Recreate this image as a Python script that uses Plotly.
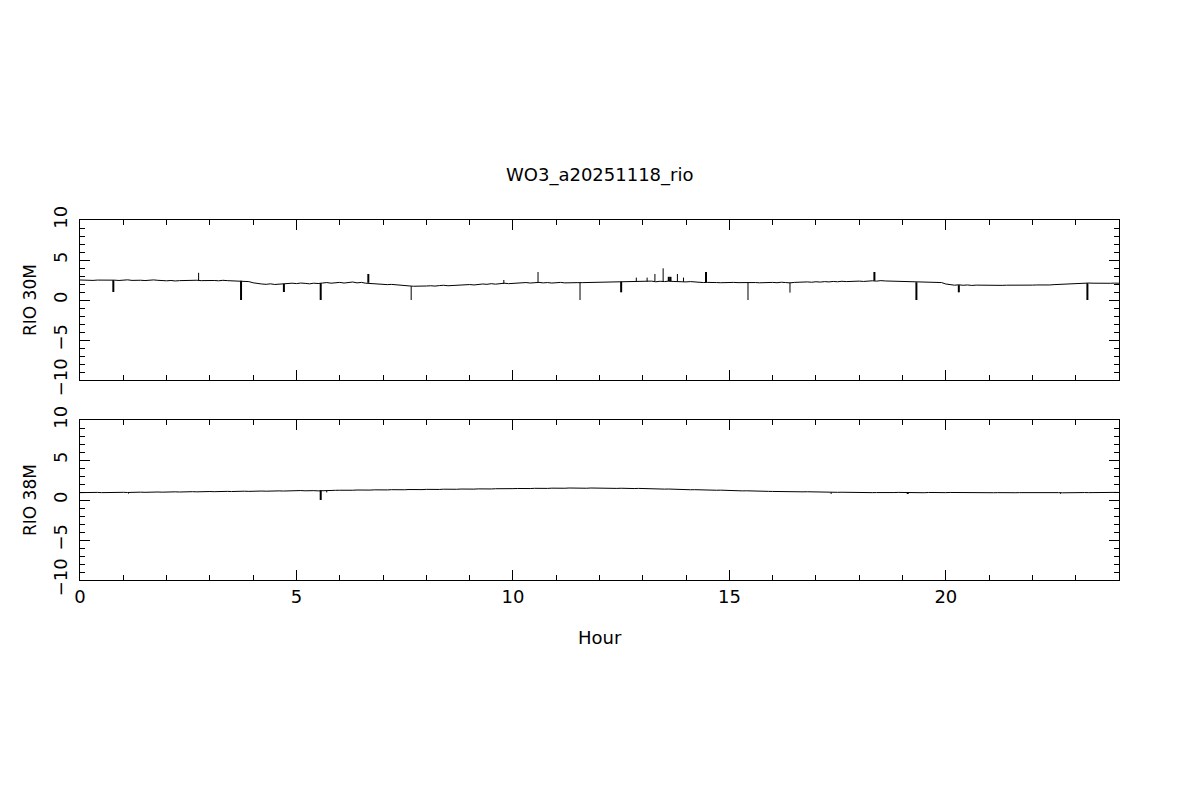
import plotly.graph_objects as go

# ---------------- data ----------------
hours = [round(i * 0.1, 1) for i in range(241)]

rio30_base = [
    2.50, 2.47, 2.52, 2.45, 2.49, 2.51, 2.46, 2.50, 2.48, 2.44,
    2.47, 2.52, 2.45, 2.50, 2.47, 2.43, 2.48, 2.51, 2.46, 2.42,
    2.40, 2.44, 2.38, 2.42, 2.45, 2.40, 2.43, 2.47, 2.42, 2.45,
    2.48, 2.44, 2.40, 2.46, 2.42, 2.39, 2.43, 2.40, 2.38, 2.30,
    2.15, 2.05, 2.00, 1.96, 2.02, 1.94, 1.98, 2.04, 2.06, 2.10,
    2.05, 2.12, 2.08, 2.02, 2.10, 2.06, 2.12, 2.18, 2.10, 2.15,
    2.20, 2.12, 2.18, 2.25, 2.14, 2.20, 2.10, 2.05, 2.08, 2.02,
    1.98, 1.92, 1.95, 1.88, 1.85, 1.80, 1.76, 1.72, 1.70, 1.73,
    1.75, 1.78, 1.74, 1.80, 1.84, 1.78, 1.82, 1.88, 1.85, 1.90,
    1.93, 1.88, 1.95, 2.00, 1.96, 2.04, 1.98, 2.06, 2.10, 2.04,
    2.08, 2.14, 2.10, 2.18, 2.12, 2.16, 2.20, 2.14, 2.18, 2.12,
    2.16, 2.20, 2.14, 2.18, 2.15, 2.17, 2.17, 2.18, 2.20, 2.24,
    2.20, 2.26, 2.22, 2.28, 2.24, 2.30, 2.26, 2.32, 2.28, 2.30,
    2.34, 2.30, 2.36, 2.28, 2.34, 2.30, 2.36, 2.32, 2.28, 2.30,
    2.26, 2.30, 2.24, 2.20, 2.18, 2.20, 2.22, 2.18, 2.16, 2.20,
    2.18, 2.20, 2.17, 2.19, 2.16, 2.20, 2.18, 2.15, 2.19, 2.17,
    2.20, 2.16, 2.22, 2.18, 2.14, 2.20, 2.24, 2.20, 2.26, 2.22,
    2.28, 2.24, 2.30, 2.26, 2.32, 2.28, 2.34, 2.30, 2.35, 2.32,
    2.36, 2.32, 2.38, 2.40, 2.36, 2.42, 2.38, 2.36, 2.40, 2.34,
    2.32, 2.30, 2.28, 2.30, 2.27, 2.28, 2.26, 2.25, 2.22, 2.18,
    2.00, 1.88, 1.85, 1.90, 1.84, 1.88, 1.82, 1.86, 1.84, 1.88,
    1.84, 1.86, 1.85, 1.83, 1.85, 1.84, 1.84, 1.85, 1.85, 1.84,
    1.86, 1.88, 1.85, 1.90, 1.88, 1.92, 1.95, 1.98, 2.02, 2.05,
    2.08, 2.06, 2.10, 2.12, 2.10, 2.08, 2.10, 2.12, 2.09, 2.11,
    2.10,
]

rio38_base = [
    0.92, 0.94, 0.92, 0.93, 0.95, 0.92, 0.94, 0.93, 0.95, 0.94,
    0.96, 0.94, 0.97, 0.95, 0.98, 0.96, 0.99, 0.97, 1.00, 0.98,
    1.01, 0.99, 1.02, 1.00, 1.03, 1.01, 1.04, 1.02, 1.05, 1.03,
    1.06, 1.04, 1.07, 1.05, 1.08, 1.06, 1.09, 1.07, 1.10, 1.08,
    1.11, 1.09, 1.12, 1.10, 1.13, 1.11, 1.14, 1.12, 1.15, 1.13,
    1.16, 1.18, 1.15, 1.19, 1.17, 1.14, 1.18, 1.20, 1.17, 1.21,
    1.22, 1.20, 1.24, 1.22, 1.25, 1.23, 1.26, 1.24, 1.27, 1.25,
    1.28, 1.26, 1.29, 1.27, 1.30, 1.28, 1.31, 1.29, 1.32, 1.30,
    1.33, 1.31, 1.34, 1.32, 1.35, 1.33, 1.36, 1.34, 1.37, 1.35,
    1.38, 1.36, 1.39, 1.37, 1.40, 1.38, 1.41, 1.39, 1.42, 1.40,
    1.42, 1.44, 1.41, 1.45, 1.43, 1.46, 1.44, 1.47, 1.45, 1.48,
    1.46, 1.49, 1.47, 1.50, 1.48, 1.46, 1.49, 1.47, 1.50, 1.48,
    1.47, 1.49, 1.46, 1.48, 1.45, 1.47, 1.44, 1.46, 1.43, 1.45,
    1.42, 1.40, 1.41, 1.38, 1.39, 1.36, 1.37, 1.34, 1.35, 1.32,
    1.30, 1.28, 1.29, 1.26, 1.27, 1.24, 1.25, 1.22, 1.23, 1.20,
    1.18, 1.16, 1.17, 1.14, 1.15, 1.12, 1.13, 1.10, 1.11, 1.08,
    1.07, 1.05, 1.06, 1.04, 1.05, 1.03, 1.04, 1.02, 1.03, 1.01,
    1.00, 0.98, 0.99, 0.97, 0.98, 0.96, 0.97, 0.95, 0.96, 0.94,
    0.95, 0.93, 0.94, 0.92, 0.93, 0.91, 0.92, 0.94, 0.93, 0.95,
    0.93, 0.94, 0.92, 0.95, 0.93, 0.91, 0.94, 0.92, 0.93, 0.91,
    0.92, 0.94, 0.93, 0.91, 0.92, 0.94, 0.92, 0.93, 0.91, 0.92,
    0.93, 0.91, 0.92, 0.94, 0.92, 0.93, 0.91, 0.92, 0.93, 0.92,
    0.94, 0.92, 0.93, 0.91, 0.92, 0.93, 0.92, 0.90, 0.92, 0.93,
    0.92, 0.94, 0.93, 0.92, 0.94, 0.93, 0.95, 0.93, 0.94, 0.95,
    0.94,
]

# spikes: time (h), level before spike, spike extreme, thick?
rio30_spike_t = [0.77, 2.74, 3.72, 4.71, 5.56, 6.66, 7.65, 9.79, 10.58, 11.55,
                 12.50, 12.85, 13.10, 13.28, 13.47, 13.60, 13.64, 13.80, 13.94,
                 14.46, 15.43, 16.40, 18.35, 19.32, 20.30, 23.27]
rio30_spike_from = [2.48, 2.44, 2.40, 2.02, 2.10, 2.15, 1.72, 2.00, 2.14, 2.17,
                    2.28, 2.30, 2.30, 2.34, 2.30, 2.34, 2.34, 2.30, 2.28,
                    2.22, 2.18, 2.18, 2.40, 2.22, 1.86, 2.10]
rio30_spike_to = [1.00, 3.40, 0.00, 1.00, 0.00, 3.25, 0.00, 2.50, 3.50, 0.00,
                  0.96, 2.80, 2.80, 3.25, 3.96, 2.90, 2.90, 3.25, 2.80,
                  3.50, 0.00, 0.92, 3.50, 0.00, 0.96, 0.00]
rio30_spike_thick = [1, 0, 1, 1, 1, 1, 0, 0, 0, 0,
                     1, 0, 0, 0, 0, 1, 1, 0, 0,
                     1, 0, 0, 1, 1, 1, 1]

rio38_spike_t = [1.12, 5.56, 5.70, 17.35, 19.12, 22.65]
rio38_spike_from = [0.96, 1.22, 1.18, 0.95, 0.92, 0.92]
rio38_spike_to = [0.80, 0.00, 0.95, 0.75, 0.75, 0.78]
rio38_spike_thick = [0, 1, 0, 0, 1, 0]

title_text = "WO3_a20251118_rio"
panel_labels = ["RIO 30M", "RIO 38M"]
x_label = "Hour"

# ---------------- figure ----------------
FONT = "DejaVu Sans"
fig = go.Figure()


def spike_xy(ts, fr, to, thick, want):
    xs, ys = [], []
    for t, a, b, k in zip(ts, fr, to, thick):
        if k == want:
            xs += [t, t, None]
            ys += [a, b, None]
    return xs, ys


for xa, ya, base, st, sf, sto, sk in [
    ("x", "y", rio30_base, rio30_spike_t, rio30_spike_from, rio30_spike_to, rio30_spike_thick),
    ("x2", "y2", rio38_base, rio38_spike_t, rio38_spike_from, rio38_spike_to, rio38_spike_thick),
]:
    fig.add_trace(go.Scatter(x=hours, y=base, mode="lines", xaxis=xa, yaxis=ya,
                             line=dict(color="black", width=1), showlegend=False,
                             hoverinfo="skip"))
    for want, w in [(0, 1), (1, 2)]:
        sx, sy = spike_xy(st, sf, sto, sk, want)
        fig.add_trace(go.Scatter(x=sx, y=sy, mode="lines", xaxis=xa, yaxis=ya,
                                 line=dict(color="black", width=w), showlegend=False,
                                 hoverinfo="skip"))

axis_common = dict(
    showline=True, linecolor="black", linewidth=1, mirror="ticks",
    ticks="inside", tickcolor="black", tickwidth=1, ticklen=10,
    showgrid=False, zeroline=False,
    tickfont=dict(family=FONT, size=18, color="black"),
)
minor_ticks = dict(dtick=1, ticks="inside", ticklen=5, tickcolor="black")

# page body has an 8 px offset, compensate so the plot lands at x 80-1119, y 220-580
top_dom = [200 / 360, 1.0]
bot_dom = [0.0, 160 / 360]

fig.update_layout(
    width=1200, height=800,
    paper_bgcolor="white", plot_bgcolor="white",
    margin=dict(l=72, r=89, t=212, b=228),
    xaxis=dict(domain=[0, 1], range=[0, 24], anchor="y", dtick=5, tick0=0,
               showticklabels=False, minor=minor_ticks, **axis_common),
    xaxis2=dict(domain=[0, 1], range=[0, 24], anchor="y2", dtick=5, tick0=0,
                minor=minor_ticks, **axis_common),
    yaxis=dict(domain=top_dom, range=[-10, 10], anchor="x", dtick=5, tick0=0,
               tickangle=-90, ticklabelstandoff=5, minor=minor_ticks, **axis_common),
    yaxis2=dict(domain=bot_dom, range=[-10, 10], anchor="x2", dtick=5, tick0=0,
                tickangle=-90, ticklabelstandoff=5, minor=minor_ticks, **axis_common),
    annotations=[
        dict(text=title_text, xref="paper", yref="paper", x=0.5, y=(580 - 175) / 360,
             showarrow=False, xanchor="center", yanchor="middle",
             font=dict(family=FONT, size=18, color="black")),
        dict(text=panel_labels[0], xref="paper", yref="paper", x=-50 / 1039, y=(580 - 300) / 360,
             showarrow=False, xanchor="center", yanchor="middle", textangle=-90,
             font=dict(family=FONT, size=17, color="black")),
        dict(text=panel_labels[1], xref="paper", yref="paper", x=-50 / 1039, y=(580 - 500) / 360,
             showarrow=False, xanchor="center", yanchor="middle", textangle=-90,
             font=dict(family=FONT, size=17, color="black")),
        dict(text=x_label, xref="paper", yref="paper", x=0.5, y=(580 - 637) / 360,
             showarrow=False, xanchor="center", yanchor="middle",
             font=dict(family=FONT, size=18, color="black")),
    ],
)

fig.write_html("out.html")
